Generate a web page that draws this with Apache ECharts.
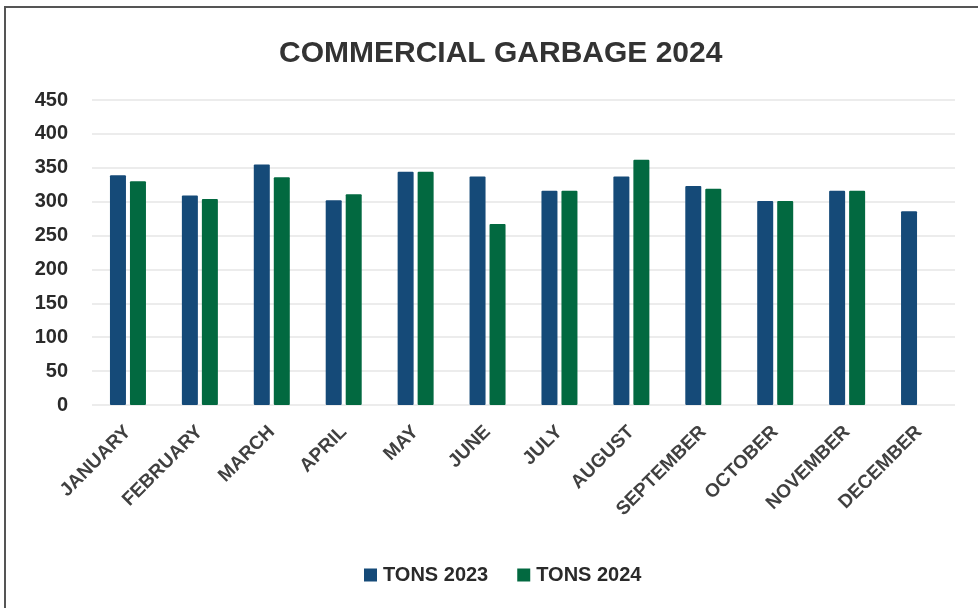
<!DOCTYPE html>
<html>
<head>
<meta charset="utf-8">
<script src="https://cdn.jsdelivr.net/npm/echarts@6/dist/echarts.min.js"></script>
<style>
  html, body { margin: 0; padding: 0; background: #fff; width: 978px; height: 608px; overflow: hidden; }
  #frame { position: absolute; left: 4px; top: 6px; width: 990px; height: 620px; border-left: 2px solid #555; border-top: 2px solid #555; box-sizing: border-box; }
  #chart { position: absolute; left: 0; top: 0; width: 978px; height: 608px; }
</style>
</head>
<body>
<div id="frame"></div>
<div id="chart"></div>
<script>
const titleText = 'COMMERCIAL GARBAGE 2024';
const months = ['JANUARY','FEBRUARY','MARCH','APRIL','MAY','JUNE','JULY','AUGUST','SEPTEMBER','OCTOBER','NOVEMBER','DECEMBER'];
const tons2023 = [339, 309, 355, 302, 344, 337, 316, 337, 323, 301, 316, 286];
const tons2024 = [330, 304, 336, 311, 344, 267, 316, 362, 319, 301, 316, null];
const seriesNames = ['TONS 2023', 'TONS 2024'];
const yMin = 0, yMax = 450, yStep = 50;

const chart = echarts.init(document.getElementById('chart'), null, { renderer: 'canvas' });
const sans = "'Liberation Sans',Arial,sans-serif";
chart.setOption({
  backgroundColor: 'transparent',
  animation: false,
  title: {
    text: titleText,
    left: 274,
    top: 34,
    textStyle: { fontFamily: sans, fontWeight: 'bold', fontSize: 30, color: '#333333' }
  },
  legend: {
    data: seriesNames,
    top: 565,
    left: 364,
    padding: 0,
    itemWidth: 13,
    itemHeight: 13,
    itemGap: 29,
    icon: 'rect',
    textStyle: { fontFamily: sans, fontWeight: 'bold', fontSize: 20, color: '#2a2a2a', padding: [0, 0, 0, 1] }
  },
  grid: { left: 92, right: 23, top: 100, bottom: 203, containLabel: false },
  xAxis: {
    type: 'category',
    data: months,
    axisLine: { show: false },
    axisTick: { show: false },
    axisLabel: {
      rotate: 45,
      interval: 0,
      margin: 24,
      fontFamily: sans,
      fontWeight: 'bold',
      fontSize: 19,
      color: '#404040'
    }
  },
  yAxis: {
    type: 'value',
    min: yMin,
    max: yMax,
    interval: yStep,
    axisLine: { show: false },
    axisTick: { show: false },
    axisLabel: { fontFamily: sans, fontWeight: 'bold', fontSize: 20, color: '#2a2a2a', margin: 24 },
    splitLine: { lineStyle: { color: '#e6e6e6', width: 1.5 } }
  },
  series: [
    {
      name: seriesNames[0],
      type: 'bar',
      data: tons2023,
      barWidth: 16,
      barGap: '25%',
      itemStyle: { color: '#154a78', borderRadius: 1 }
    },
    {
      name: seriesNames[1],
      type: 'bar',
      data: tons2024,
      barWidth: 16,
      barGap: '25%',
      itemStyle: { color: '#026940', borderRadius: 1 }
    }
  ]
});
</script>
</body>
</html>
